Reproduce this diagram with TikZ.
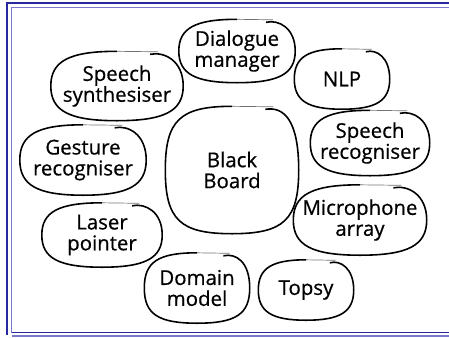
\documentclass[tikz,border=0pt]{standalone}
\usepackage{fontspec}
\setmainfont{Open Sans}
\newfontfamily\partfont{Open Sans}[FakeBold=0.6]
\usetikzlibrary{calc}

\definecolor{framedark}{RGB}{40,40,160}
\definecolor{framelight}{RGB}{120,120,205}

\tikzset{
  part/.style={inner sep=0pt, align=center, font=\partfont\fontsize{20.5}{21}\selectfont},
  outline/.style={line width=1.6pt, black},
  tail/.style={line width=0.7pt, black!55},
  frameline/.style={line width=1.2pt}
}

\begin{document}
\begin{tikzpicture}[x=1bp,y=-1bp]
        \useasboundingbox (0,0) rectangle (449,337);

        % the double frame round the picture
        \draw[frameline, framedark] (449,3) -- (7,3) -- (7,335);
        \draw[frameline, framelight] (449,7.5) -- (11.5,7.5) -- (11.5,332.5);
        \draw[frameline, framedark] (11.5,332.5) -- (449,332.5);
        \draw[frameline, framelight] (11.5,336) -- (449,336);

        % the parts (text only, the outlines come later)
        \node[part, minimum width=133bp, minimum height=127bp] (bb) at (232,170) {Black\\Board};
        \node[part, minimum width=116bp, minimum height=63bp] (dlg) at (237,51) {Dialogue\\manager};
        \node[part, minimum width=95bp, minimum height=60bp] (nlp) at (342,79) {NLP};
        \node[part, minimum width=132bp, minimum height=69bp] (synth) at (117,86) {Speech\\synthesiser};
        \node[part, minimum width=119bp, minimum height=65bp] (srec) at (370,143) {Speech\\recogniser};
        \node[part, minimum width=126bp, minimum height=70bp] (grec) at (83,160) {Gesture\\recogniser};
        \node[part, minimum width=133bp, minimum height=70bp] (mic) at (360,220) {Microphone\\array};
        \node[part, minimum width=120bp, minimum height=64bp] (laser) at (102,235) {Laser\\pointer};
        \node[part, minimum width=105bp, minimum height=70bp] (domain) at (197,288) {Domain\\model};
        \node[part, minimum width=95bp, minimum height=60bp] (topsy) at (306,290) {Topsy};

        % hand drawn outlines: the pen starts just below the top edge and
        % its thin end runs back over the start
        \foreach \n/\k in {bb/0.78, dlg/0.72, nlp/0.72, synth/0.72, srec/0.72, grec/0.72, mic/0.72, laser/0.72, domain/0.74, topsy/0.72}{
            \draw[outline] ($(\n.north)!0.5!(\n.north east)+(0,3)$)
                .. controls ($(\n.north)!\k!(\n.north east)$) and ($(\n.east)!\k!(\n.north east)$) .. (\n.east)
                .. controls ($(\n.east)!\k!(\n.south east)$) and ($(\n.south)!\k!(\n.south east)$) .. (\n.south)
                .. controls ($(\n.south)!\k!(\n.south west)$) and ($(\n.west)!\k!(\n.south west)$) .. (\n.west)
                .. controls ($(\n.west)!\k!(\n.north west)$) and ($(\n.north)!\k!(\n.north west)$) .. (\n.north);
            \draw[tail] (\n.north) .. controls ($(\n.north)!0.3!(\n.north east)$) .. ($(\n.north)!0.62!(\n.north east)+(0,0.5)$);
        }

    \end{tikzpicture}
\end{document}
